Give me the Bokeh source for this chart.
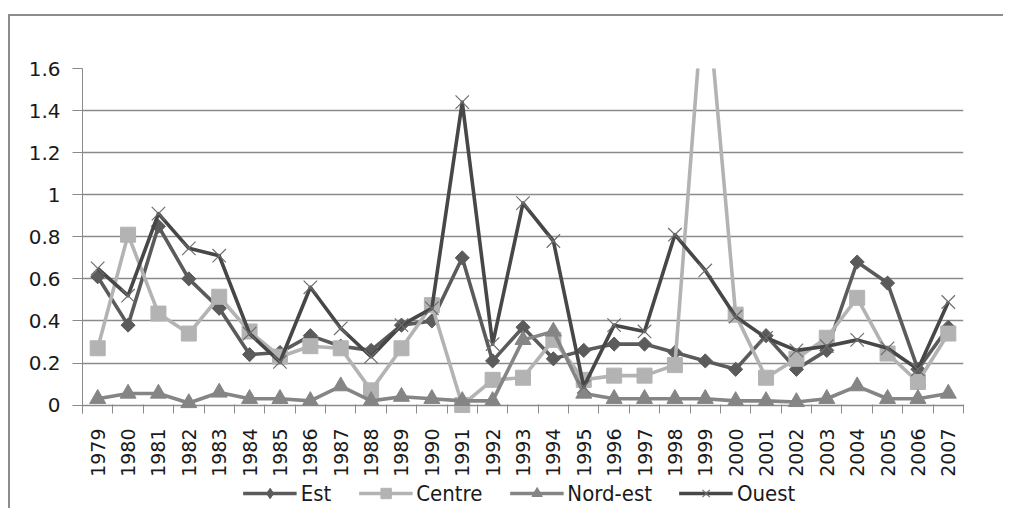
import numpy as np
from bokeh.plotting import figure
from bokeh.layouts import column
from bokeh.models import (FixedTicker, CustomJSTickFormatter, Legend, LegendItem, Range1d)
from bokeh.embed import file_html
from bokeh.resources import INLINE

years = ["1979", "1980", "1981", "1982", "1983", "1984", "1985", "1986", "1987", "1988",
         "1989", "1990", "1991", "1992", "1993", "1994", "1995", "1996", "1997", "1998",
         "1999", "2000", "2001", "2002", "2003", "2004", "2005", "2006", "2007"]
est = [0.61, 0.38, 0.85, 0.60, 0.46, 0.24, 0.25, 0.33, 0.28, 0.26,
       0.38, 0.40, 0.70, 0.21, 0.37, 0.22, 0.26, 0.29, 0.29, 0.25,
       0.21, 0.17, 0.33, 0.17, 0.26, 0.68, 0.58, 0.17, 0.37]
centre = [0.27, 0.81, 0.435, 0.34, 0.515, 0.35, 0.23, 0.28, 0.27, 0.07,
          0.27, 0.475, 0.0, 0.12, 0.13, 0.31, 0.12, 0.14, 0.14, 0.19,
          2.06, 0.43, 0.13, 0.22, 0.32, 0.51, 0.245, 0.11, 0.34]
nord_est = [0.03, 0.055, 0.055, 0.01, 0.06, 0.03, 0.03, 0.02, 0.09, 0.02,
            0.04, 0.03, 0.02, 0.02, 0.31, 0.35, 0.055, 0.03, 0.03, 0.03,
            0.03, 0.02, 0.02, 0.015, 0.03, 0.09, 0.03, 0.03, 0.055]
ouest = [0.65, 0.52, 0.91, 0.745, 0.71, 0.34, 0.205, 0.56, 0.365, 0.23,
         0.38, 0.46, 1.44, 0.29, 0.96, 0.78, 0.087, 0.38, 0.35, 0.81,
         0.64, 0.42, 0.32, 0.26, 0.28, 0.31, 0.27, 0.17, 0.49]
series_names = ["Est", "Centre", "Nord-est", "Ouest"]
y_ticks = [0, 0.2, 0.4, 0.6, 0.8, 1, 1.2, 1.4, 1.6]

x = list(range(len(years)))
boundaries = [i - 0.5 for i in range(len(years) + 1)]

main = figure(width=993, height=477, output_backend="svg", toolbar_location=None,
              x_range=Range1d(-0.5, len(years) - 0.5), y_range=Range1d(-0.04, 1.6),
              min_border_left=72, min_border_right=40, min_border_top=52,
              min_border_bottom=80)
main.outline_line_color = None
main.background_fill_color = "white"
main.border_fill_color = "white"

grey = "#8a8a8a"
font = "DejaVu Sans"

# y axis
main.yaxis.ticker = FixedTicker(ticks=y_ticks)
main.yaxis.formatter = CustomJSTickFormatter(code="return String(Math.round(tick*10)/10)")
main.yaxis.axis_line_color = grey
main.yaxis.major_tick_line_color = grey
main.yaxis.major_tick_out = 10
main.yaxis.major_tick_in = 0
main.yaxis.minor_tick_line_color = None
main.yaxis.major_label_standoff = 12
main.yaxis.major_label_text_font = font
main.yaxis.major_label_text_font_size = "20px"
main.yaxis.major_label_text_color = "#1a1a1a"

# x axis
main.xaxis.ticker = FixedTicker(ticks=x, minor_ticks=boundaries)
main.xaxis.formatter = CustomJSTickFormatter(args=dict(years=years),
                                             code="return years[Math.round(tick)]")
main.xaxis.axis_line_color = None
main.xaxis.major_tick_line_color = None
main.xaxis.minor_tick_line_color = grey
main.xaxis.minor_tick_in = 9
main.xaxis.minor_tick_out = 0
main.xaxis.major_tick_in = 0
main.xaxis.major_tick_out = 0
main.xaxis.major_label_orientation = np.pi / 2
main.xaxis.major_label_standoff = 15
main.xaxis.major_label_text_font = font
main.xaxis.major_label_text_font_size = "19px"
main.xaxis.major_label_text_color = "#1a1a1a"

main.xgrid.visible = False
main.ygrid.ticker = FixedTicker(ticks=y_ticks)
main.ygrid.grid_line_color = grey
main.ygrid.grid_line_width = 1.3

lw = 3.6
c_est, c_centre, c_ne, c_ouest = "#5b5b5b", "#b3b3b3", "#858585", "#474747"
styles = [
    dict(color=c_est, marker="square", angle=np.pi / 4, size=10, legend_marker="diamond"),
    dict(color=c_centre, marker="square", angle=0.0, size=15, legend_marker="square"),
    dict(color=c_ne, marker="triangle", angle=0.0, size=16, legend_marker="triangle"),
    dict(color=c_ouest, marker="x", angle=0.0, size=19, legend_marker="x"),
]
data = [est, centre, nord_est, ouest]


def draw(fig, vals, st, marker):
    r1 = fig.line(x, vals, line_color=st["color"], line_width=lw, line_join="round")
    if marker == "x":
        r2 = fig.scatter(x, vals, marker="x", size=st["size"], line_color="#6e6e6e",
                         line_width=1.2)
    else:
        ang = st["angle"] if marker == st["marker"] else 0.0
        r2 = fig.scatter(x, vals, marker=marker, angle=ang, size=st["size"],
                         fill_color=st["color"], line_color=st["color"])
    return r1, r2


for vals, st in zip(data, styles):
    draw(main, vals, st, st["marker"])

# legend strip below the chart (its renderers lie outside its visible range)
leg = figure(width=980, height=30, output_backend="svg", toolbar_location=None,
             x_range=Range1d(-30, -29), y_range=Range1d(-30, -29),
             x_axis_location=None, y_axis_location=None,
             min_border_left=0, min_border_right=0, min_border_top=0, min_border_bottom=0)
leg.grid.visible = False
leg.outline_line_color = None
leg.background_fill_alpha = 0
leg.border_fill_alpha = 0
leg.styles = {"margin-top": "-15px", "margin-left": "3px"}

items = []
for name, vals, st in zip(series_names, data, styles):
    r1, r2 = draw(leg, vals, st, st["legend_marker"])
    items.append(LegendItem(label=name, renderers=[r1, r2]))

legend = Legend(items=items, orientation="horizontal", location="center",
                glyph_width=54, glyph_height=26, label_standoff=4, spacing=27,
                padding=0, margin=0, border_line_color=None, background_fill_alpha=0,
                label_text_font="DejaVu Sans Condensed", label_text_font_size="22px",
                label_text_color="#1a1a1a", label_height=26)
leg.add_layout(legend, "center")

p = column(main, leg, spacing=0)
p.styles = {"border-top": "2px solid #8c8c8c", "border-left": "2px solid #8c8c8c",
            "margin-top": "14px", "margin-left": "8px"}

open("out.html", "w").write(file_html(p, INLINE))
